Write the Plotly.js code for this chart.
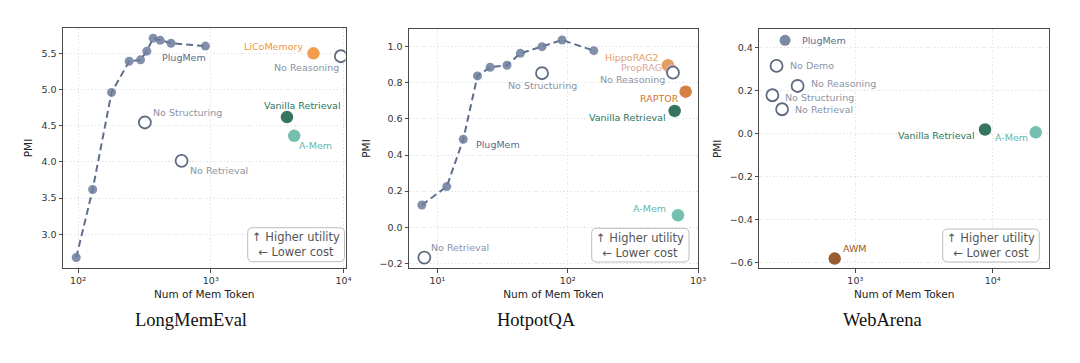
<!DOCTYPE html>
<html>
<head>
<meta charset="utf-8">
<script src="https://cdn.plot.ly/plotly-3.0.1.min.js"></script>
<style>html,body{margin:0;padding:0;background:#fff;}#chart{width:1080px;height:363px;}</style>
</head>
<body>
<div id="chart"></div>
<script>
// ---------------- DATA ----------------
const panelTitles = ['LongMemEval', 'HotpotQA', 'WebArena'];

// LongMemEval
const lmeCurveTokens = [97, 129, 179, 243, 296, 330, 368, 416, 502, 912];
const lmeCurvePMI    = [2.68, 3.62, 4.96, 5.39, 5.41, 5.53, 5.71, 5.68, 5.64, 5.60];
const lmeMethods = ['LiCoMemory', 'No Reasoning', 'Vanilla Retrieval', 'A-Mem', 'No Structuring', 'No Retrieval'];
const lmeTokens  = [5940, 9550, 3750, 4250, 319, 603];
const lmePMI     = [5.50, 5.46, 4.62, 4.36, 4.545, 4.015];

// HotpotQA
const hqaCurveTokens = [7.6, 11.8, 15.8, 20.3, 25.4, 34.2, 43.3, 63.5, 90.5, 158.6];
const hqaCurvePMI    = [0.123, 0.225, 0.487, 0.838, 0.886, 0.897, 0.963, 1.000, 1.037, 0.978];
const hqaMethods = ['No Structuring', 'No Retrieval', 'HippoRAG2', 'PropRAG', 'No Reasoning', 'RAPTOR', 'Vanilla Retrieval', 'A-Mem'];
const hqaTokens  = [63.5, 7.94, 588, 624, 643, 804, 662, 702];
const hqaPMI     = [0.853, -0.168, 0.897, 0.871, 0.856, 0.751, 0.644, 0.066];

// WebArena
const waMethods = ['PlugMem', 'No Demo', 'No Reasoning', 'No Structuring', 'No Retrieval', 'Vanilla Retrieval', 'A-Mem', 'AWM'];
const waTokens  = [308, 267, 380, 249, 293, 8800, 20600, 708];
const waPMI     = [0.433, 0.314, 0.221, 0.178, 0.113, 0.019, 0.006, -0.580];

// ---------------- STYLE ----------------
const W = 1080, H = 363;
const FONT = 'DejaVu Sans, sans-serif';
const plugColor = '#6c7c9c';
const plugLine = '#5e6e8e';
const openEdge = '#5f6b80';
const openLabel = '#8a93a6';
const methodStyle = {
  'PlugMem':           {fill: plugColor, label: '#5a6a8c', open: false},
  'LiCoMemory':        {fill: '#f0923a', label: '#f0963e', open: false},
  'Vanilla Retrieval': {fill: '#1f654f', label: '#2a7760', open: false},
  'A-Mem':             {fill: '#66b8a9', label: '#66b8a9', open: false},
  'HippoRAG2':         {fill: '#e0954f', label: '#e2a062', open: false},
  'PropRAG':           {fill: '#d9a6a2', label: '#d6a4a0', open: false},
  'RAPTOR':            {fill: '#d0712b', label: '#d27530', open: false},
  'AWM':               {fill: '#8c4a1a', label: '#9b5a26', open: false},
  'No Reasoning':      {open: true, label: openLabel},
  'No Structuring':    {open: true, label: openLabel},
  'No Retrieval':      {open: true, label: openLabel},
  'No Demo':           {open: true, label: openLabel}
};
// label placement: [xanchor, xshift, yshift]
const labelPos = [
  { 'LiCoMemory': ['right', -8, 7], 'No Reasoning': ['right', 0, -11], 'Vanilla Retrieval': ['center', 16, 12],
    'A-Mem': ['left', 3, -10], 'No Structuring': ['left', 6, 10], 'No Retrieval': ['left', 6, -10] },
  { 'No Structuring': ['center', 0, -12], 'No Retrieval': ['left', 5, 10], 'HippoRAG2': ['right', -7, 8],
    'PropRAG': ['right', -7, 2], 'No Reasoning': ['right', -6, -7], 'RAPTOR': ['right', -5, -7],
    'Vanilla Retrieval': ['right', -7, -7], 'A-Mem': ['right', -10, 7] },
  { 'PlugMem': ['left', 15, 0], 'No Demo': ['left', 11, 0], 'No Reasoning': ['left', 11, 2],
    'No Structuring': ['left', 11, -2], 'No Retrieval': ['left', 11, 0], 'Vanilla Retrieval': ['right', -8, -6],
    'A-Mem': ['right', -6, -5], 'AWM': ['left', 6, 10] }
];
// plot boxes in pixels [left, top, right, bottom]
const boxes = [[63, 28, 345.5, 268], [409, 29, 698, 268], [759.3, 29.3, 1049, 268.3]];
const xRanges = [[1.887, 4.015], [0.782, 3.0], [2.301, 4.41]];
const yRanges = [[2.535, 5.85], [-0.226, 1.098], [-0.625, 0.484]];
const yTicks = [[3.0, 3.5, 4.0, 4.5, 5.0, 5.5], [-0.2, 0, 0.2, 0.4, 0.6, 0.8, 1.0], [-0.6, -0.4, -0.2, 0, 0.2, 0.4]];
const yFormats = ['.1f', '.1f', '.1f'];
const xTickExps = [[2, 3, 4], [1, 2, 3], [3, 4]];
const noteBoxes = [[247.7, 227.7, 344.5, 261.7], [591.7, 228.3, 689, 262], [942.7, 229, 1039.3, 262]];
const titleX = [191, 536, 883];
const sup = {1: '¹', 2: '²', 3: '³', 4: '⁴'};

// ---------------- BUILD ----------------
const traces = [];
const annotations = [];
const shapes = [];
const layout = {
  width: W, height: H, margin: {l: 0, r: 0, t: 0, b: 0},
  paper_bgcolor: '#fff', plot_bgcolor: '#fff', showlegend: false,
  font: {family: FONT, color: '#333'}
};

function px2paperX(x) { return x / W; }
function px2paperY(y) { return (H - y) / H; }

for (let p = 0; p < 3; p++) {
  const ax = p === 0 ? '' : String(p + 1);
  const b = boxes[p];
  layout['xaxis' + ax] = {
    type: 'log', domain: [px2paperX(b[0]), px2paperX(b[2])], range: xRanges[p],
    anchor: 'y' + ax, showline: true, mirror: true, linecolor: '#4a4a4a', linewidth: 1,
    ticks: 'outside', ticklen: 3.5, tickcolor: '#4a4a4a',
    tickvals: xTickExps[p].map(e => Math.pow(10, e)),
    ticktext: xTickExps[p].map(e => '10' + sup[e]),
    tickfont: {family: FONT, size: 9.5, color: '#333'},
    showgrid: true, gridcolor: '#e4e4e4', griddash: '1.5px,2px', gridwidth: 1, zeroline: false,
    automargin: false,
    title: {text: 'Num of Mem Token', font: {family: FONT, size: 10.5, color: '#222'}, standoff: 5}
  };
  layout['yaxis' + ax] = {
    domain: [px2paperY(b[3]), px2paperY(b[1])], range: yRanges[p],
    anchor: 'x' + ax, showline: true, mirror: true, linecolor: '#4a4a4a', linewidth: 1,
    ticks: 'outside', ticklen: 3.5, tickcolor: '#4a4a4a',
    tickvals: yTicks[p], tickformat: yFormats[p],
    tickfont: {family: FONT, size: 9.5, color: '#333'},
    showgrid: true, gridcolor: '#e4e4e4', griddash: '1.5px,2px', gridwidth: 1, zeroline: false,
    automargin: false,
    title: {text: 'PMI', font: {family: FONT, size: 10.5, color: '#222'}, standoff: 6}
  };
  // subplot title
  annotations.push({
    xref: 'paper', yref: 'paper', x: px2paperX(titleX[p]), y: px2paperY(320),
    text: panelTitles[p], showarrow: false, xanchor: 'center', yanchor: 'middle',
    font: {family: 'Liberation Serif, Times New Roman, serif', size: 18.5, color: '#111'}
  });
  // note box
  const nb = noteBoxes[p];
  const x0 = px2paperX(nb[0]), x1 = px2paperX(nb[2]), y0 = px2paperY(nb[1]), y1 = px2paperY(nb[3]);
  const rx = 5 / W, ry = 5 / H;
  shapes.push({
    type: 'path', xref: 'paper', yref: 'paper', layer: 'above',
    path: `M ${x0 + rx},${y0} L ${x1 - rx},${y0} Q ${x1},${y0} ${x1},${y0 - ry} L ${x1},${y1 + ry} Q ${x1},${y1} ${x1 - rx},${y1} L ${x0 + rx},${y1} Q ${x0},${y1} ${x0},${y1 + ry} L ${x0},${y0 - ry} Q ${x0},${y0} ${x0 + rx},${y0} Z`,
    line: {color: '#bdbdbd', width: 1}, fillcolor: 'rgba(255,255,255,0.85)'
  });
  annotations.push({
    xref: 'paper', yref: 'paper', x: (x0 + x1) / 2, y: (y0 + y1) / 2,
    text: '↑ Higher utility<br>← Lower cost', showarrow: false, xanchor: 'center', yanchor: 'middle',
    font: {family: FONT, size: 11.5, color: '#555'}
  });
}

function addCurve(p, xs, ys, labelIdx, shift) {
  const ax = p === 0 ? '' : String(p + 1);
  traces.push({
    type: 'scatter', mode: 'lines+markers', x: xs, y: ys, xaxis: 'x' + ax, yaxis: 'y' + ax,
    line: {color: plugLine, width: 2, dash: '7px,4px'},
    marker: {color: plugColor, size: 9, opacity: 0.85}, hoverinfo: 'skip'
  });
  annotations.push({
    xref: 'x' + ax, yref: 'y' + ax, x: Math.log10(xs[labelIdx]), y: ys[labelIdx],
    text: 'PlugMem', showarrow: false, xanchor: 'left', yanchor: 'middle',
    xshift: shift[0], yshift: shift[1],
    font: {family: FONT, size: 9.5, color: methodStyle['PlugMem'].label}
  });
}

function addMethods(p, names, xs, ys) {
  const ax = p === 0 ? '' : String(p + 1);
  names.forEach((n, i) => {
    const st = methodStyle[n];
    const isPlug = n === 'PlugMem';
    traces.push({
      type: 'scatter', mode: 'markers', x: [xs[i]], y: [ys[i]], xaxis: 'x' + ax, yaxis: 'y' + ax,
      marker: st.open
        ? {color: '#fff', size: 12, line: {color: openEdge, width: 1.8}}
        : {color: st.fill, size: isPlug ? 11 : 12.5, opacity: 0.9, line: {width: 0}},
      hoverinfo: 'skip'
    });
    const lp = labelPos[p][n];
    annotations.push({
      xref: 'x' + ax, yref: 'y' + ax, x: Math.log10(xs[i]), y: ys[i],
      text: n, showarrow: false, xanchor: lp[0], yanchor: 'middle', xshift: lp[1], yshift: lp[2],
      font: {family: FONT, size: 9.5, color: st.label}
    });
  });
}

addCurve(0, lmeCurveTokens, lmeCurvePMI, 7, [0, -17]);
addMethods(0, lmeMethods, lmeTokens, lmePMI);
addCurve(1, hqaCurveTokens, hqaCurvePMI, 2, [10.5, -5.5]);
addMethods(1, hqaMethods, hqaTokens, hqaPMI);
addMethods(2, waMethods, waTokens, waPMI);

layout.annotations = annotations;
layout.shapes = shapes;

Plotly.newPlot('chart', traces, layout, {staticPlot: true, displayModeBar: false});
</script>
</body>
</html>
